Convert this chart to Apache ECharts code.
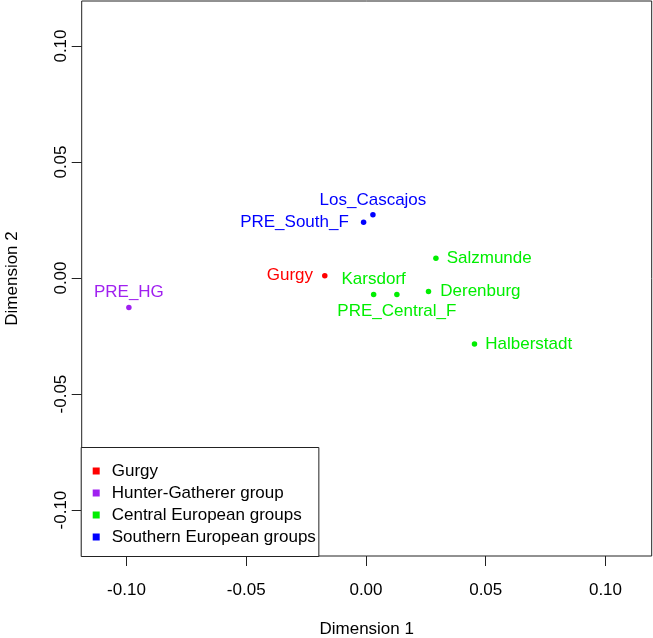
<!DOCTYPE html>
<html>
<head>
<meta charset="utf-8">
<script src="https://cdn.jsdelivr.net/npm/echarts@6/dist/echarts.min.js"></script>
<style>
html,body{margin:0;padding:0;background:#fff;}
#chart{width:653px;height:638px;}
</style>
</head>
<body>
<div id="chart"></div>
<script>
// ---- data ----
const pointNames = ['Gurgy','PRE_HG','Karsdorf','PRE_Central_F','Derenburg','Salzmunde','Halberstadt','PRE_South_F','Los_Cascajos'];
const dim1 = [-0.0172, -0.0990, 0.0032, 0.0129, 0.0261, 0.0292, 0.0453, -0.0010, 0.0029];
const dim2 = [0.0010, -0.0127, -0.0071, -0.0071, -0.0058, 0.0085, -0.0284, 0.0240, 0.0273];
const pointGroup = [0, 1, 2, 2, 2, 2, 2, 3, 3];
const groupNames = ['Gurgy','Hunter-Gatherer group','Central European groups','Southern European groups'];
const tickValues = [-0.10, -0.05, 0.00, 0.05, 0.10];

// ---- styles ----
const groupColors = ['#FF0000','#A020F0','#00EE00','#0000FF'];
const labelPlacement = {
  'Gurgy': ['left', 9],
  'PRE_HG': ['top', 4],
  'Karsdorf': ['top', 4],
  'PRE_Central_F': ['bottom', 6],
  'Derenburg': ['right', 9],
  'Salzmunde': ['right', 8],
  'Halberstadt': ['right', 8],
  'PRE_South_F': ['left', 12],
  'Los_Cascajos': ['top', 3]
};
const FONT = '"Liberation Sans", Arial, sans-serif';

const series = groupNames.map((g, gi) => {
  const data = [];
  pointNames.forEach((n, i) => {
    if (pointGroup[i] !== gi) return;
    const lp = labelPlacement[n];
    data.push({
      name: n,
      value: [dim1[i], dim2[i]],
      label: { position: lp[0], distance: lp[1] }
    });
  });
  return {
    name: g,
    type: 'scatter',
    symbol: 'circle',
    symbolSize: 5.5,
    itemStyle: { color: groupColors[gi], opacity: 1 },
    label: {
      show: true,
      formatter: '{b}',
      color: groupColors[gi],
      opacity: 1,
      fontSize: 17,
      fontFamily: FONT
    },
    emphasis: { disabled: true },
    data: data
  };
});

const chart = echarts.init(document.getElementById('chart'), null, { renderer: 'canvas' });
chart.setOption({
  animation: false,
  backgroundColor: '#fff',
  textStyle: { fontFamily: FONT },
  grid: {
    left: 81.7, right: 1.3, top: 1, bottom: 82,
    containLabel: false,
    outerBoundsMode: 'none',
    show: true, borderColor: '#222', borderWidth: 1, backgroundColor: 'transparent'
  },
  legend: {
    orient: 'vertical',
    left: 81.2,
    top: 447.5,
    icon: 'rect',
    itemWidth: 7,
    itemHeight: 7,
    itemGap: 5,
    padding: [15, 3, 11, 11.5],
    borderColor: '#222',
    borderWidth: 1,
    backgroundColor: '#fff',
    selectedMode: false,
    itemStyle: { opacity: 1 },
    textStyle: { color: '#000', fontSize: 17, lineHeight: 17, fontFamily: FONT, padding: [0, 0, 0, 7] },
    data: groupNames
  },
  xAxis: {
    type: 'value',
    min: -0.1187, max: 0.1193,
    name: 'Dimension 1',
    nameLocation: 'middle',
    nameGap: 65,
    nameTextStyle: { color: '#000', fontSize: 17, fontFamily: FONT },
    axisLine: { show: false, onZero: false },
    axisTick: { show: true, length: 10, customValues: tickValues, lineStyle: { color: '#222' } },
    axisLabel: {
      customValues: tickValues, margin: 26, color: '#000', fontSize: 17, fontFamily: FONT,
      formatter: v => v.toFixed(2)
    },
    splitLine: { show: false }
  },
  yAxis: {
    type: 'value',
    min: -0.1198, max: 0.1194,
    name: 'Dimension 2',
    nameLocation: 'middle',
    nameGap: 61,
    nameRotate: 90,
    nameTextStyle: { color: '#000', fontSize: 17, fontFamily: FONT },
    axisLine: { show: false, onZero: false },
    axisTick: { show: true, length: 10, customValues: tickValues, lineStyle: { color: '#222' } },
    axisLabel: {
      customValues: tickValues, margin: 12, rotate: 90, color: '#000', fontSize: 17, fontFamily: FONT,
      formatter: v => v.toFixed(2)
    },
    splitLine: { show: false }
  },
  series: series
});
</script>
</body>
</html>
